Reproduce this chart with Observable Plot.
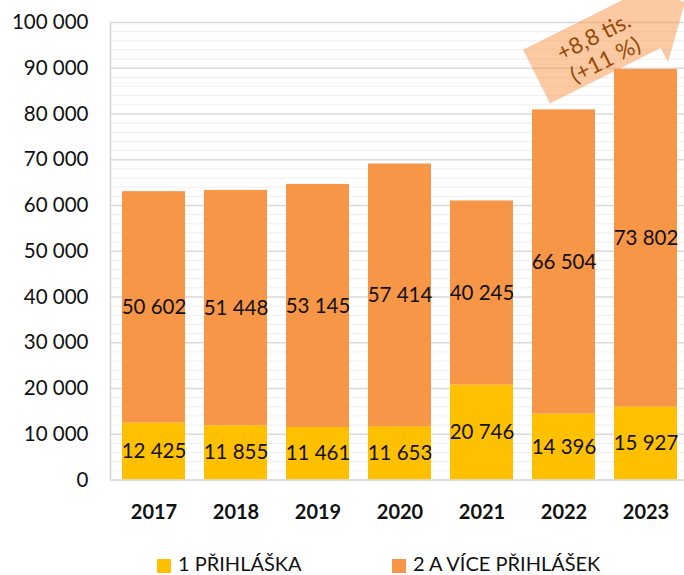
<!DOCTYPE html>
<html>
<head>
<meta charset="utf-8">
<script src="https://cdn.jsdelivr.net/npm/d3@7"></script>
<script src="https://cdn.jsdelivr.net/npm/@observablehq/plot@0.6"></script>
<style>
  body { margin: 0; background: #fff; font-family: Lato, sans-serif; }
  #chart svg { overflow: visible; }
  #legend { position: relative; width: 684px; height: 35px; font-size: 20px; color: #111; }
  #legend .sw { position: absolute; width: 14px; height: 14px; top: 19px; }
  #legend .lb { position: absolute; top: 11px; line-height: 24px; white-space: nowrap; }
</style>
</head>
<body>
<div id="chart"></div>
<div id="legend"></div>
<script>
const years = ["2017", "2018", "2019", "2020", "2021", "2022", "2023"];
const singleApp = [12425, 11855, 11461, 11653, 20746, 14396, 15927];
const multiApp = [50602, 51448, 53145, 57414, 40245, 66504, 73802];
const seriesNames = ["1 PŘIHLÁŠKA", "2 A VÍCE PŘIHLÁŠEK"];
const seriesColors = ["#FFC000", "#F79646"];
const yTicks = [0, 10000, 20000, 30000, 40000, 50000, 60000, 70000, 80000, 90000, 100000];
const minorTicks = d3.range(0, 100001, 2000).filter(v => v % 10000 !== 0);
const annotationLines = ["+8,8 tis.", "(+11 %)"];

const fmt = d => d3.format(",")(d).replace(/,/g, " ");

const table = [];
years.forEach((yr, i) => {
  table.push({year: yr, series: seriesNames[0], value: singleApp[i], y1: 0, y2: singleApp[i]});
  table.push({year: yr, series: seriesNames[1], value: multiApp[i], y1: singleApp[i], y2: singleApp[i] + multiApp[i]});
});

const leftLine = (index, scales, values, dims) => {
  const g = d3.create("svg:g");
  g.append("line")
    .attr("x1", dims.marginLeft).attr("x2", dims.marginLeft)
    .attr("y1", scales.y(100000)).attr("y2", scales.y(0))
    .attr("stroke", "#d4d4d4").attr("stroke-width", 1.5);
  return g.node();
};

const arrow = (index, scales, values, dims) => {
  const tx = scales.x("2022") + 4.5;
  const ty = scales.y(88050);
  const g = d3.create("svg:g").attr("transform", `translate(${tx},${ty}) rotate(-26.6)`);
  const pts = [[0,-30],[124,-30],[124,-46],[166,0],[124,46],[124,30],[0,30]];
  g.append("polygon").attr("points", pts.map(p => p.join(",")).join(" "))
    .attr("fill", "#F79646").attr("fill-opacity", 0.5);
  const pos = [[69, -10.5], [69, 15.5]];
  annotationLines.forEach((t, i) => {
    g.append("text").attr("x", pos[i][0]).attr("y", pos[i][1])
      .attr("text-anchor", "middle").attr("dy", "0.36em")
      .attr("fill", "#984807")
      .style("font-size", "22.5px").style("font-family", "Lato, sans-serif")
      .text(t);
  });
  return g.node();
};

const plot = Plot.plot({
  width: 684,
  height: 540,
  marginLeft: 110.5,
  marginRight: 0,
  marginTop: 22,
  marginBottom: 60.5,
  style: {fontFamily: "Lato, sans-serif", fontSize: "20px", color: "#000", background: "#fff"},
  x: {domain: years, range: [110.4, 689], paddingInner: 0.232, paddingOuter: 0.116, label: null},
  y: {domain: [0, 100000], range: [479.5, 22], label: null},
  color: {domain: seriesNames, range: seriesColors},
  marks: [
    Plot.ruleY(minorTicks, {stroke: "#eeeeee", strokeWidth: 1}),
    Plot.ruleY(yTicks.filter(v => v > 0), {stroke: "#d9d9d9", strokeWidth: 1.3}),
    Plot.barY(table, {x: "year", y1: "y1", y2: "y2", fill: "series"}),
    Plot.ruleY([0], {stroke: "#d4d4d4", strokeWidth: 1.5}),
    leftLine,
    Plot.text(table, {x: "year", y: d => (d.y1 + d.y2) / 2, text: d => fmt(d.value), fontSize: 20.5, fill: "#111"}),
    Plot.axisY({ticks: yTicks, tickSize: 0, tickPadding: 22.5, tickFormat: fmt, fontSize: 20.5, fill: "#111", label: null}),
    Plot.axisX({tickSize: 0, tickPadding: 24.5, fontSize: 20, fontWeight: "bold", fill: "#111", label: null}),
    arrow
  ]
});
document.getElementById("chart").appendChild(plot);

const legend = d3.select("#legend");
const lx = [[157, 178], [392, 413]];
seriesNames.forEach((s, i) => {
  legend.append("div").attr("class", "sw").style("left", lx[i][0] + "px").style("background", seriesColors[i]);
  legend.append("div").attr("class", "lb").style("left", lx[i][1] + "px").text(s);
});
</script>
</body>
</html>
